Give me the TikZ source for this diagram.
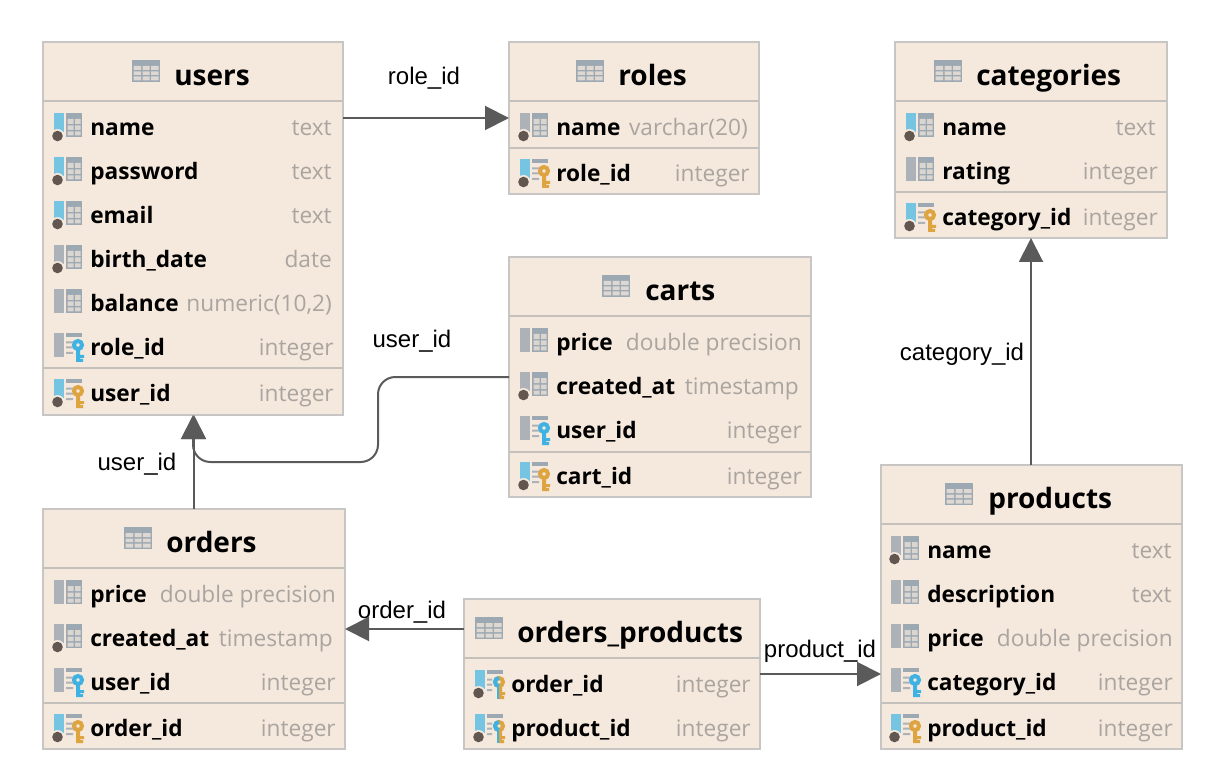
\documentclass[tikz,border=0pt]{standalone}
\usepackage{fontspec}
\setmainfont{Open Sans}
\newfontfamily\linkfont{Liberation Sans}
\usetikzlibrary{arrows.meta}
\definecolor{tablefill}{RGB}{245,232,220}
\definecolor{tableline}{RGB}{200,198,196}
\definecolor{sepline}{RGB}{196,192,188}
\definecolor{linkgray}{RGB}{90,90,90}
\definecolor{typegray}{RGB}{170,165,160}
\definecolor{icongray}{RGB}{172,178,184}
\definecolor{gridgray}{RGB}{156,168,178}
\definecolor{barblue}{RGB}{116,196,226}
\definecolor{keyblue}{RGB}{62,178,226}
\definecolor{keygold}{RGB}{222,164,64}
\definecolor{dotbrown}{RGB}{98,86,80}
\tikzset{
  dbtable/.style={draw=tableline,fill=tablefill,line width=1.5pt,inner sep=0pt,outer sep=0pt},
  tablesep/.style={draw=sepline,line width=1.5pt},
  tabletitle/.style={anchor=base west,yshift=-8pt,inner sep=0pt,font=\fontsize{21}{24}\selectfont\bfseries},
  colname/.style={anchor=base west,yshift=-6.5pt,inner sep=0pt,font=\fontsize{17}{20}\selectfont\bfseries},
  coltype/.style={anchor=base east,yshift=-6.5pt,inner sep=0pt,text=typegray,font=\fontsize{17}{20}\selectfont},
  fklink/.style={draw=linkgray,line width=1.5pt,-{Triangle[width=18pt,length=18pt]}},
  linklabel/.style={inner sep=0pt,font=\linkfont\fontsize{18}{20}\selectfont},
  % icon parts, origin at left end of the row centre line
  barfull/.pic={\fill[icongray] (0,-14) rectangle (10,10);},
  barshort/.pic={\fill[#1] (0,-14) rectangle (10,5);
    \fill[tablefill] (3.5,9) circle (7);
    \fill[dotbrown] (3.5,9) circle (5.3);},
  gridpart/.pic={\fill[gridgray] (12,-14) rectangle (28,10);
    \fill[tablefill!70!gridgray] (13.5,-8) rectangle (19.5,-3) (21,-8) rectangle (26.5,-3)
      (13.5,-1.5) rectangle (19.5,3) (21,-1.5) rectangle (26.5,3)
      (13.5,4.5) rectangle (19.5,8.5) (21,4.5) rectangle (26.5,8.5);},
  keypart/.pic={\fill[gridgray] (12,-14) rectangle (28,-10);
    \fill[icongray] (12,-5.5) rectangle (19,-3.5) (12,-0.5) rectangle (19,1.5) (12,5) rectangle (19,7);
    \draw[#1,line width=3pt] (24,-2) circle (4);
    \fill[#1] (22,2) rectangle (26,15) (26,8) rectangle (30,11) (26,12) rectangle (29,15);},
  halfkey/.pic={\fill[gridgray] (12,-14) rectangle (28,-10);
    \fill[icongray] (12,-5.5) rectangle (17,-3.5) (12,-0.5) rectangle (17,1.5) (12,5) rectangle (17,7);
    \draw[keygold,line width=3pt] (24,-2) circle (4);
    \fill[keygold] (24,2) rectangle (27,15) (27,8) rectangle (30,11) (27,12) rectangle (29,15);
    \fill[keyblue] (22,2) rectangle (24,15);
    \draw[keyblue,line width=3pt] (24,2) arc (90:270:4);},
  colplain/.pic={\pic {barfull}; \pic {gridpart};},
  coldot/.pic={\pic {barshort=icongray}; \pic {gridpart};},
  colblue/.pic={\pic {barshort=barblue}; \pic {gridpart};},
  colfk/.pic={\pic {barfull}; \pic {keypart=keyblue};},
  colpk/.pic={\pic {barshort=barblue}; \pic {keypart=keygold};},
  colpkfk/.pic={\pic {barshort=barblue}; \pic {halfkey};},
  titleicon/.pic={\fill[gridgray] (0,0) rectangle (28,22);
    \fill[tablefill!75!gridgray] (1.5,6) rectangle (9,10) (10.5,6) rectangle (17.5,10) (19,6) rectangle (26.5,10)
      (1.5,11.5) rectangle (9,15) (10.5,11.5) rectangle (17.5,15) (19,11.5) rectangle (26.5,15)
      (1.5,16.5) rectangle (9,20.5) (10.5,16.5) rectangle (17.5,20.5) (19,16.5) rectangle (26.5,20.5);},
}

\begin{document}
\begin{tikzpicture}[x=0.75pt,y=-0.75pt]
\useasboundingbox (0,0) rectangle (1220,780);

%Table: users
\node[dbtable,minimum width=225pt,minimum height=279.75pt] (users) at (193,228.5) {};
\draw[tablesep] (users.west |- 0,101) -- (users.east |- 0,101);
\draw[tablesep] (users.west |- 0,368) -- (users.east |- 0,368);
\pic at (132,60) {titleicon};
\node[tabletitle] (userstitle) at (174,75) {users};
\pic at (54,127) {colblue};
\node[colname] (usersname) at (90,127) {name};
\node[coltype] (usersnametype) at (332,127) {text};
\pic at (54,171) {colblue};
\node[colname] (userspassword) at (90,171) {password};
\node[coltype] (userspasswordtype) at (332,171) {text};
\pic at (54,215) {colblue};
\node[colname] (usersemail) at (90,215) {email};
\node[coltype] (usersemailtype) at (332,215) {text};
\pic at (54,259) {coldot};
\node[colname] (usersbirth) at (90,259) {birth\_date};
\node[coltype] (usersbirthtype) at (332,259) {date};
\pic at (54,303) {colplain};
\node[colname] (usersbalance) at (90,303) {balance};
\node[coltype] (usersbalancetype) at (332,303) {numeric(10,2)};
\pic at (54,347) {colfk};
\node[colname] (usersrole) at (90,347) {role\_id};
\node[coltype] (usersroletype) at (334,347) {integer};
\pic at (54,393) {colpk};
\node[colname] (usersid) at (90,393) {user\_id};
\node[coltype] (usersidtype) at (334,393) {integer};

%Table: roles
\node[dbtable,minimum width=187.5pt,minimum height=114pt] (roles) at (634,118) {};
\draw[tablesep] (roles.west |- 0,101) -- (roles.east |- 0,101);
\draw[tablesep] (roles.west |- 0,148) -- (roles.east |- 0,148);
\pic at (576,60) {titleicon};
\node[tabletitle] (rolestitle) at (618,75) {roles};
\pic at (520,127) {coldot};
\node[colname] (rolesname) at (556,127) {name};
\node[coltype] (rolesnametype) at (748,127) {varchar(20)};
\pic at (520,173) {colpk};
\node[colname] (rolesid) at (556,173) {role\_id};
\node[coltype] (rolesidtype) at (750,173) {integer};

%Table: categories
\node[dbtable,minimum width=204pt,minimum height=147pt] (categories) at (1031,140) {};
\draw[tablesep] (categories.west |- 0,101) -- (categories.east |- 0,101);
\draw[tablesep] (categories.west |- 0,192) -- (categories.east |- 0,192);
\pic at (934,60) {titleicon};
\node[tabletitle] (categoriestitle) at (976,75) {categories};
\pic at (906,127) {colblue};
\node[colname] (categoriesname) at (942,127) {name};
\node[coltype] (categoriesnametype) at (1156,127) {text};
\pic at (906,171) {colplain};
\node[colname] (categoriesrating) at (942,171) {rating};
\node[coltype] (categoriesratingtype) at (1158,171) {integer};
\pic at (906,217) {colpk};
\node[colname] (categoriesid) at (942,217) {category\_id};
\node[coltype] (categoriesidtype) at (1158,217) {integer};

%Table: carts
\node[dbtable,minimum width=226.5pt,minimum height=180pt] (carts) at (660,377) {};
\draw[tablesep] (carts.west |- 0,316) -- (carts.east |- 0,316);
\draw[tablesep] (carts.west |- 0,452) -- (carts.east |- 0,452);
\pic at (602,275) {titleicon};
\node[tabletitle] (cartstitle) at (645,290) {carts};
\pic at (520,342) {colplain};
\node[colname] (cartsprice) at (556,342) {price};
\node[coltype] (cartspricetype) at (802,342) {double precision};
\pic at (520,386) {coldot};
\node[colname] (cartscreated) at (556,386) {created\_at};
\node[coltype] (cartscreatedtype) at (799,386) {timestamp};
\pic at (520,430) {colfk};
\node[colname] (cartsuser) at (556,430) {user\_id};
\node[coltype] (cartsusertype) at (802,430) {integer};
\pic at (520,476) {colpk};
\node[colname] (cartsid) at (556,476) {cart\_id};
\node[coltype] (cartsidtype) at (802,476) {integer};

%Table: orders
\node[dbtable,minimum width=226.5pt,minimum height=180pt] (orders) at (194,629) {};
\draw[tablesep] (orders.west |- 0,568) -- (orders.east |- 0,568);
\draw[tablesep] (orders.west |- 0,703) -- (orders.east |- 0,703);
\pic at (124,527) {titleicon};
\node[tabletitle] (orderstitle) at (166,542) {orders};
\pic at (54,594) {colplain};
\node[colname] (ordersprice) at (90,594) {price};
\node[coltype] (orderspricetype) at (336,594) {double precision};
\pic at (54,638) {coldot};
\node[colname] (orderscreated) at (90,638) {created\_at};
\node[coltype] (orderscreatedtype) at (333,638) {timestamp};
\pic at (54,682) {colfk};
\node[colname] (ordersuser) at (90,682) {user\_id};
\node[coltype] (ordersusertype) at (336,682) {integer};
\pic at (54,728) {colpk};
\node[colname] (ordersid) at (90,728) {order\_id};
\node[coltype] (ordersidtype) at (336,728) {integer};

%Table: orders_products
\node[dbtable,minimum width=222pt,minimum height=112.5pt] (ordersproducts) at (612,674) {};
\draw[tablesep] (ordersproducts.west |- 0,658) -- (ordersproducts.east |- 0,658);
\pic at (475,617) {titleicon};
\node[tabletitle] (ordersproductstitle) at (517,632) {orders\_products};
\pic at (475,684) {colpkfk};
\node[colname] (ordersproductsorder) at (511,684) {order\_id};
\node[coltype] (ordersproductsordertype) at (751,684) {integer};
\pic at (475,728) {colpkfk};
\node[colname] (ordersproductsproduct) at (511,728) {product\_id};
\node[coltype] (ordersproductsproducttype) at (751,728) {integer};

%Table: products
\node[dbtable,minimum width=225.75pt,minimum height=213pt] (products) at (1031.5,607) {};
\draw[tablesep] (products.west |- 0,524) -- (products.east |- 0,524);
\draw[tablesep] (products.west |- 0,703) -- (products.east |- 0,703);
\pic at (945,483) {titleicon};
\node[tabletitle] (productstitle) at (988,498) {products};
\pic at (891,550) {coldot};
\node[colname] (productsname) at (927,550) {name};
\node[coltype] (productsnametype) at (1172,550) {text};
\pic at (891,594) {colplain};
\node[colname] (productsdescription) at (927,594) {description};
\node[coltype] (productsdescriptiontype) at (1172,594) {text};
\pic at (891,638) {colplain};
\node[colname] (productsprice) at (927,638) {price};
\node[coltype] (productspricetype) at (1173,638) {double precision};
\pic at (891,682) {colfk};
\node[colname] (productscategory) at (927,682) {category\_id};
\node[coltype] (productscategorytype) at (1173,682) {integer};
\pic at (891,728) {colpk};
\node[colname] (productsid) at (927,728) {product\_id};
\node[coltype] (productsidtype) at (1173,728) {integer};

%Links
\coordinate (cartsbend) at (378,462);
\draw[fklink] (users.east |- roles.west) -- (roles.west);
\draw[fklink,rounded corners=13pt] (carts.west) -| (cartsbend) -| (users.south);
\draw[fklink] (orders.north) -- (orders.north |- users.south);
\draw[fklink] (ordersproducts.west |- orders.east) -- (orders.east);
\draw[fklink] (ordersproducts.east) -- (ordersproducts.east -| products.west);
\draw[fklink] (products.north -| categories.south) -- (categories.south);

%Link labels
\node[linklabel] (rolelabel) at (424,78) {role\_id};
\node[linklabel] (cartlabel) at (412,341) {user\_id};
\node[linklabel] (orderuserlabel) at (137,464) {user\_id};
\node[linklabel] (orderlabel) at (402,612) {order\_id};
\node[linklabel] (productlabel) at (820,651) {product\_id};
\node[linklabel] (categorylabel) at (962,354) {category\_id};

\end{tikzpicture}
\end{document}
